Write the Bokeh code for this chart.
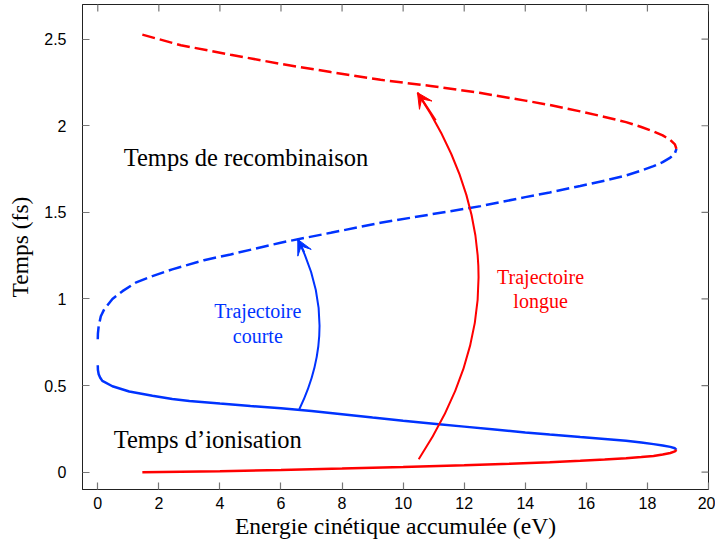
import math
from bokeh.plotting import figure
from bokeh.models import Range1d, FixedTicker, Arrow, VeeHead
from bokeh.core.properties import value
from bokeh.embed import file_html
from bokeh.resources import INLINE

# ---- data ----
# short trajectory: ionisation times (solid blue)
short_ion_E = [0.0, 0.005, 0.03, 0.08, 0.15, 0.48, 1.03, 1.79, 2.44, 3.0, 4.0, 5.0, 6.0, 7.0, 8.0,
               9.0, 10.0, 11.0, 12.0, 13.0, 14.0, 14.8, 15.8, 16.6, 17.3, 17.8, 18.2, 18.5, 18.75,
               18.9, 18.95]
short_ion_t = [0.617, 0.59, 0.565, 0.545, 0.527, 0.496, 0.466, 0.441, 0.422, 0.411, 0.396, 0.382,
               0.369, 0.353, 0.334, 0.315, 0.297, 0.280, 0.263, 0.246, 0.229, 0.217, 0.203, 0.192,
               0.181, 0.171, 0.162, 0.154, 0.146, 0.138, 0.129]
# short trajectory: recombination times (dashed blue)
short_rec_E = [0.0, 0.005, 0.03, 0.1, 0.21, 0.48, 0.81, 1.24, 1.79, 2.44, 3.48, 4.35, 5.99, 7.63,
               9.26, 10.9, 12.54, 14.0, 14.8, 15.8, 16.6, 17.3, 17.8, 18.2, 18.5, 18.75, 18.9, 18.95]
short_rec_t = [0.767, 0.80, 0.844, 0.90, 0.94, 1.0, 1.045, 1.094, 1.132, 1.171, 1.224, 1.257, 1.325,
               1.382, 1.44, 1.488, 1.536, 1.588, 1.615, 1.652, 1.683, 1.713, 1.741, 1.767, 1.790,
               1.816, 1.841, 1.867]
# long trajectory: ionisation times (solid red)
long_ion_E = [1.46, 4.0, 6.0, 8.0, 10.0, 12.0, 13.5, 14.8, 15.8, 16.6, 17.3, 17.8, 18.2, 18.5,
              18.75, 18.9, 18.95]
long_ion_t = [0.0, 0.006, 0.013, 0.021, 0.030, 0.040, 0.049, 0.058, 0.066, 0.073, 0.080, 0.087,
              0.094, 0.102, 0.111, 0.120, 0.129]
# long trajectory: recombination times (dashed red)
long_rec_E = [1.46, 2.72, 4.35, 5.99, 7.63, 9.26, 10.9, 12.5, 14.0, 14.8, 15.8, 16.6, 17.3, 17.8,
              18.2, 18.5, 18.75, 18.9, 18.95]
long_rec_t = [2.526, 2.465, 2.41, 2.357, 2.31, 2.265, 2.23, 2.19, 2.145, 2.12, 2.083, 2.051, 2.021,
              1.993, 1.967, 1.944, 1.918, 1.893, 1.867]

x_ticks = [0, 2, 4, 6, 8, 10, 12, 14, 16, 18, 20]
x_tick_labels = ["0", "2", "4", "6", "8", "10", "12", "14", "16", "18", "20"]
y_ticks = [0, 0.5, 1, 1.5, 2, 2.5]
y_tick_labels = ["0", "0.5", "1", "1.5", "2", "2.5"]
x_lo, x_hi = -0.5, 20
y_lo, y_hi = -0.1, 2.7

# curved arrows: start, control, tip (data coordinates)
arrow_short = dict(x0=6.60, y0=0.363, cx=7.95, cy=0.854, x1=6.55, y1=1.344)
arrow_long = dict(x0=10.51, y0=0.075, cx=14.45, cy=1.127, x1=10.47, y1=2.191)

# annotations
big_labels = ["Temps de recombinaison", "Temps d\u2019ionisation"]
big_x = [0.85, 0.52]
big_y = [1.817, 0.19]
short_lines = ["Trajectoire", "courte"]
short_x = [5.24, 5.24]
short_y = [0.928, 0.784]
long_lines = ["Trajectoire", "longue"]
long_x = [14.5, 14.5]
long_y = [1.125, 0.986]

BLUE = "#0033ff"
RED = "#ff0000"
SERIF = "Liberation Serif"
SANS = "Liberation Sans"
TICK = "#777777"

p = figure(width=715, height=547, x_range=Range1d(x_lo, x_hi), y_range=Range1d(y_lo, y_hi),
           output_backend="svg", toolbar_location=None,
           min_border_left=82, min_border_right=7, min_border_top=4, min_border_bottom=58)
p.xgrid.visible = False
p.ygrid.visible = False
p.outline_line_color = "#222222"
p.outline_line_width = 1
p.background_fill_color = "white"
p.border_fill_color = "white"

for ax, ticks, labels in ((p.xaxis[0], x_ticks, x_tick_labels), (p.yaxis[0], y_ticks, y_tick_labels)):
    ax.ticker = FixedTicker(ticks=ticks)
    ax.major_label_overrides = dict(zip(ticks, labels))
    ax.minor_tick_line_color = None
    ax.major_tick_in = 7
    ax.major_tick_out = 0
    ax.major_tick_line_color = TICK
    ax.major_tick_line_width = 1.2
    ax.axis_line_color = "#222222"
    ax.axis_line_width = 1
    ax.major_label_text_font = SANS
    ax.major_label_text_font_size = "16px"
    ax.major_label_text_color = "black"
    ax.axis_label_text_font = SERIF
    ax.axis_label_text_font_style = "normal"
    ax.axis_label_text_color = "black"

xa = p.xaxis[0]
ya = p.yaxis[0]
xa.major_label_standoff = 7
ya.major_label_standoff = 16
xa.axis_label = "Energie cinétique accumulée (eV)"
ya.axis_label = "Temps (fs)"
xa.axis_label_text_font_size = "23.6px"
ya.axis_label_text_font_size = "23.5px"
xa.axis_label_standoff = 1
ya.axis_label_standoff = 8

# inward ticks on the top and right edges of the frame (clipped to the frame)
p.scatter(x=x_ticks, y=[y_hi] * len(x_ticks), marker="dash", size=14, angle=math.pi / 2,
          line_color=TICK, line_width=1.2)
p.scatter(x=[x_hi] * len(y_ticks), y=y_ticks, marker="dash", size=14,
          line_color=TICK, line_width=1.2)

# curves
p.line(short_ion_E, short_ion_t, line_color=BLUE, line_width=2.5)
p.line(short_rec_E, short_rec_t, line_color=BLUE, line_width=2.5, line_dash="13 5")
p.line(long_ion_E, long_ion_t, line_color=RED, line_width=2.5)
p.line(long_rec_E, long_rec_t, line_color=RED, line_width=2.5, line_dash="13 5")

# curved arrows
for a, col in ((arrow_short, BLUE), (arrow_long, RED)):
    p.quadratic(x0=[a["x0"]], y0=[a["y0"]], x1=[a["x1"]], y1=[a["y1"]],
                cx=[a["cx"]], cy=[a["cy"]], line_color=col, line_width=2)
    sx = a["x1"] + 0.15 * (a["cx"] - a["x1"])
    sy = a["y1"] + 0.15 * (a["cy"] - a["y1"])
    p.add_layout(Arrow(end=VeeHead(size=15, fill_color=col, line_color=col, line_width=1),
                       x_start=sx, y_start=sy, x_end=a["x1"], y_end=a["y1"],
                       line_color=col, line_width=2))

# texts
p.text(x=big_x, y=big_y, text=big_labels, text_font=value(SERIF), text_font_size="24.5px",
       text_align="left", text_baseline="middle", text_color="black")
p.text(x=short_x, y=short_y, text=short_lines, text_font=value(SERIF), text_font_size="20px",
       text_align="center", text_baseline="middle", text_color=BLUE)
p.text(x=long_x, y=long_y, text=long_lines, text_font=value(SERIF), text_font_size="20px",
       text_align="center", text_baseline="middle", text_color=RED)

open("out.html", "w").write(file_html(p, INLINE))
